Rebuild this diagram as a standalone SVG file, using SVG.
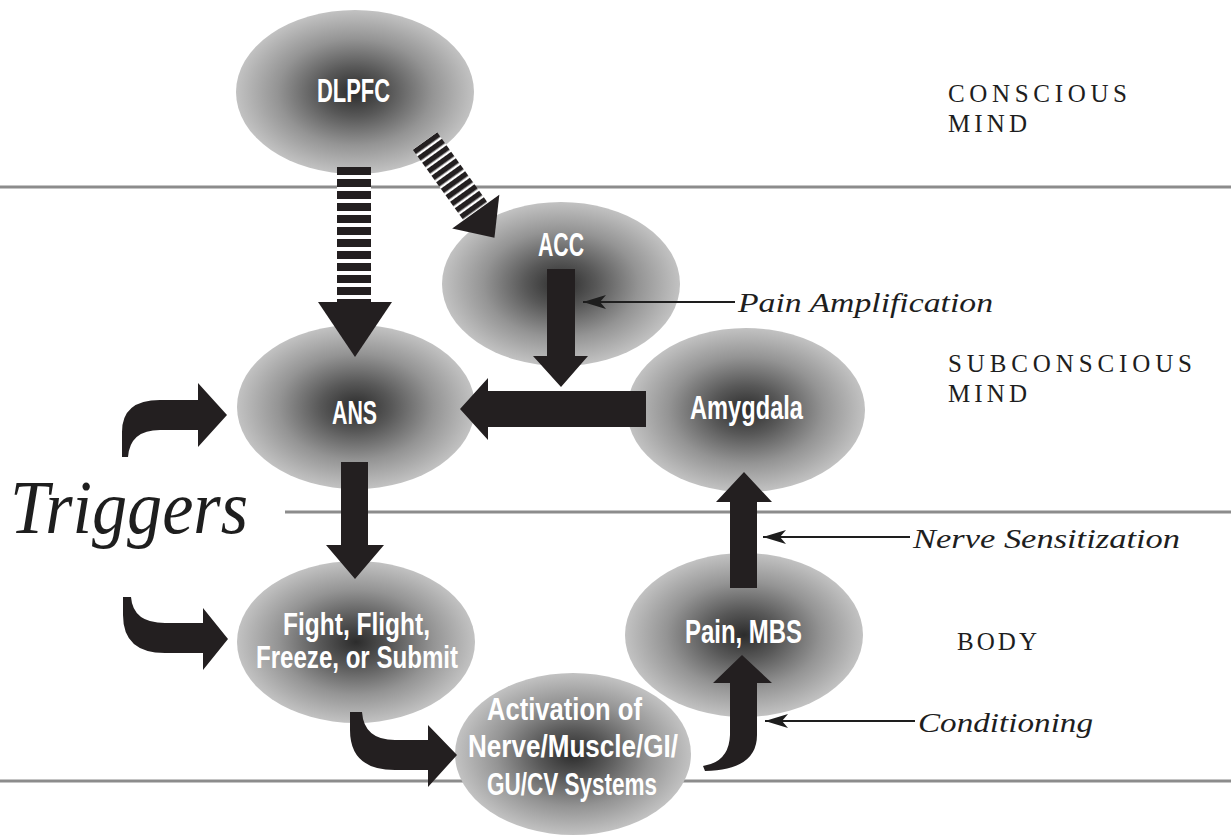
<svg xmlns="http://www.w3.org/2000/svg" width="1231" height="836" viewBox="0 0 1231 836">
<style>
.zone{font-family:"Liberation Serif","Times New Roman",serif;font-size:25px;fill:#1e1e1e}
.node{font-family:"Liberation Sans",Arial,sans-serif;font-weight:bold;font-size:34px;fill:#ffffff}
.two{font-size:31px}
.ital{font-family:"Liberation Serif","Times New Roman",serif;font-style:italic;font-size:28px;fill:#1e1e1e}
.band{stroke:#8c8c8c;stroke-width:3;fill:none}
.ptr{stroke:#1e1e1e;stroke-width:2;fill:none;marker-end:url(#ah)}
.blk{fill:#231f20}
.ell{fill:url(#g)}
</style>
<defs>
<radialGradient id="g" cx="0.5" cy="0.5" r="0.5">
<stop offset="0" stop-color="#2c2c2c"/>
<stop offset="0.3" stop-color="#585858"/>
<stop offset="0.65" stop-color="#949494"/>
<stop offset="1" stop-color="#c2c2c2"/>
</radialGradient>
<pattern id="hs" patternUnits="userSpaceOnUse" x="0" y="167" width="12" height="12">
<rect width="12" height="12" fill="#fff"/>
<rect width="12" height="8" fill="#231f20"/>
</pattern>
<pattern id="vs" patternUnits="userSpaceOnUse" x="0" y="0" width="8" height="10">
<rect width="8" height="10" fill="#fff"/>
<rect width="5.5" height="10" fill="#231f20"/>
</pattern>
<marker id="ah" markerUnits="userSpaceOnUse" markerWidth="26" markerHeight="16" refX="23" refY="7" orient="auto">
<path d="M23,7 L0,0 L6,7 L0,14 Z" fill="#1e1e1e"/>
</marker>
</defs>
<rect width="1231" height="836" fill="#ffffff"/>
<g id="bands">
<line class="band" x1="0" y1="187" x2="1231" y2="187"/>
<line class="band" x1="285" y1="512" x2="1231" y2="512"/>
<line class="band" x1="0" y1="781" x2="1231" y2="781"/>
</g>
<g id="zones">
<text class="zone" x="948" y="102" textLength="179" lengthAdjust="spacing">CONSCIOUS</text>
<text class="zone" x="948" y="132" textLength="79" lengthAdjust="spacing">MIND</text>
<text class="zone" x="948" y="372" textLength="244" lengthAdjust="spacing">SUBCONSCIOUS</text>
<text class="zone" x="948" y="402" textLength="79" lengthAdjust="spacing">MIND</text>
<text class="zone" x="957" y="650" textLength="80" lengthAdjust="spacing">BODY</text>
</g>
<g id="node-dlpfc">
<ellipse class="ell" cx="355" cy="92" rx="119" ry="82"/>
<text class="node" x="317" y="102" textLength="73" lengthAdjust="spacingAndGlyphs">DLPFC</text>
</g>
<g id="node-acc">
<ellipse class="ell" cx="561" cy="284" rx="119" ry="82"/>
<text class="node" x="538" y="256" textLength="46" lengthAdjust="spacingAndGlyphs">ACC</text>
</g>
<g id="node-ans">
<ellipse class="ell" cx="356" cy="407" rx="119" ry="82"/>
<text class="node" x="332" y="424" textLength="45" lengthAdjust="spacingAndGlyphs">ANS</text>
</g>
<g id="node-amygdala">
<ellipse class="ell" cx="746" cy="410" rx="119" ry="82"/>
<text class="node" x="690" y="419" textLength="113" lengthAdjust="spacingAndGlyphs">Amygdala</text>
</g>
<g id="node-fight">
<ellipse class="ell" cx="356" cy="642" rx="119" ry="81"/>
<text class="node two" x="283" y="635" textLength="147" lengthAdjust="spacingAndGlyphs">Fight, Flight,</text>
<text class="node two" x="256" y="668" textLength="202" lengthAdjust="spacingAndGlyphs">Freeze, or Submit</text>
</g>
<g id="node-pain">
<ellipse class="ell" cx="744" cy="635" rx="119" ry="82"/>
<text class="node" x="685" y="643" textLength="117" lengthAdjust="spacingAndGlyphs">Pain, MBS</text>
</g>
<g id="node-activation">
<ellipse class="ell" cx="573" cy="754" rx="118" ry="81"/>
<text class="node two" x="487" y="720" textLength="155" lengthAdjust="spacingAndGlyphs">Activation of</text>
<text class="node two" x="468" y="757" textLength="210" lengthAdjust="spacingAndGlyphs">Nerve/Muscle/GI/</text>
<text class="node two" x="487" y="795" textLength="170" lengthAdjust="spacingAndGlyphs">GU/CV Systems</text>
</g>
<g id="triggers">
<text class="ital" x="10" y="533" style="font-size:76px" textLength="238" lengthAdjust="spacingAndGlyphs">Triggers</text>
</g>
<g id="connectors">
<rect x="337" y="167" width="34" height="135" fill="url(#hs)"/>
<polygon class="blk" points="318,302 392,302 355,357"/>
<g transform="translate(425,141) rotate(54.3)">
<rect x="0" y="-15" width="87" height="30" fill="url(#vs)"/>
<polygon class="blk" points="87,-29 87,29 119,0"/>
</g>
<polygon class="blk" points="547,269 575,269 575,356 588,356 561,387 533,356 547,356"/>
<polygon class="blk" points="646,391 646,427 488,427 488,440 460,409 488,378 488,391"/>
<polygon class="blk" points="341,462 368,462 368,545 384,545 355,579 326,545 341,545"/>
<polygon class="blk" points="730,588 757,588 757,502 772,502 744,472 716,502 730,502"/>
<path class="blk" d="M713,683 L742,655 L772,683 L757,683 L757,735 Q757,770 705,771 L703,766 Q729,762 730,735 L730,683 Z"/>
<path class="blk" d="M350,712 L362,712 Q364,740 395,740 L428,740 L428,725 L457,755 L428,787 L428,770 L395,770 Q350,770 350,730 Z"/>
<path class="blk" d="M122,457 L122,432 Q122,400 160,400 L198,400 L198,383 L227,415 L198,447 L198,430 L160,430 Q130,430 128,457 Z"/>
<path class="blk" d="M123,597 L131,597 Q133,623 165,623 L203,623 L203,608 L228,639 L203,670 L203,653 L165,653 Q123,653 123,615 Z"/>
<line class="ptr" x1="735" y1="302" x2="583" y2="302"/>
<line class="ptr" x1="910" y1="537" x2="763" y2="537"/>
<line class="ptr" x1="915" y1="721" x2="765" y2="721"/>
</g>
<g id="labels">
<text class="ital" x="738" y="312" textLength="255" lengthAdjust="spacingAndGlyphs">Pain Amplification</text>
<text class="ital" x="913" y="548" textLength="267" lengthAdjust="spacingAndGlyphs">Nerve Sensitization</text>
<text class="ital" x="918" y="732" textLength="175" lengthAdjust="spacingAndGlyphs">Conditioning</text>
</g>
</svg>
